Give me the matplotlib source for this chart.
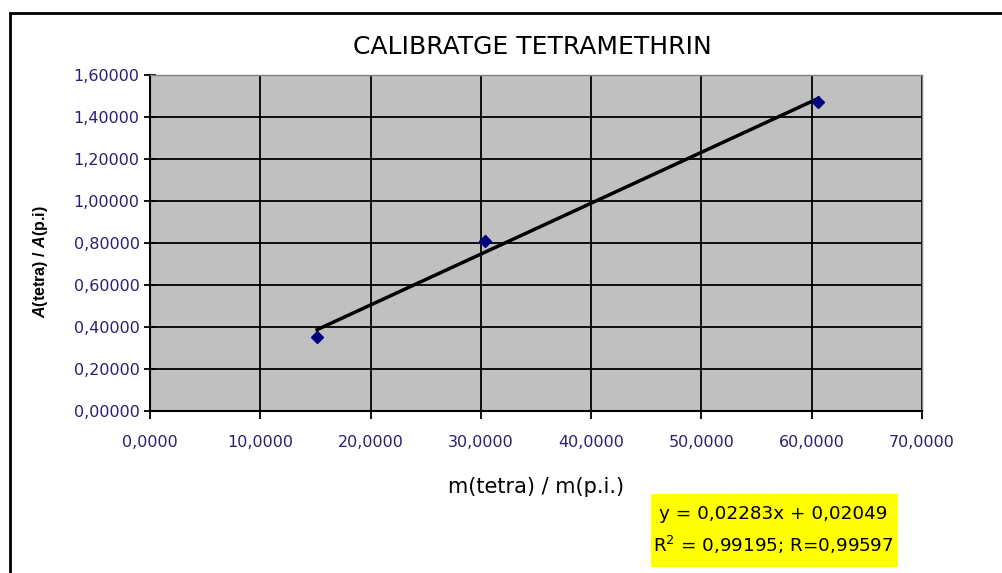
import numpy as np
import matplotlib
matplotlib.use('Agg')
import matplotlib.pyplot as plt
from matplotlib.patches import Rectangle

ratio_mass = [15.15, 30.4, 60.6]
ratio_area = [0.352, 0.81, 1.471]

x_ticks = [0, 10, 20, 30, 40, 50, 60, 70]
y_ticks = [0.0, 0.2, 0.4, 0.6, 0.8, 1.0, 1.2, 1.4, 1.6]

eq_line = 'y = 0,02283x + 0,02049'
r_line = 'R$^2$ = 0,99195; R=0,99597'

plt.rcParams['font.family'] = ['DejaVu Sans']
plt.rcParams['mathtext.fontset'] = 'custom'
plt.rcParams['mathtext.rm'] = 'DejaVu Sans'
plt.rcParams['mathtext.bfit'] = 'Liberation Sans:bold:italic'

tick_col = '#2a1f70'

fig = plt.figure(figsize=(10.02, 5.73), dpi=100)
W, H = 1002, 573

# outer chart border
fig.patches.append(Rectangle((10 / W, -0.1), 1.1, 1 - 13 / H + 0.1,
                             transform=fig.transFigure, fill=False,
                             edgecolor='black', linewidth=2))

ax = fig.add_axes([150 / W, 1 - 411 / H, (922 - 150) / W, (411 - 75) / H])
ax.set_facecolor('#c0c0c0')

ax.plot(ratio_mass, ratio_area, linestyle='none', marker='D', markersize=6,
        color='#000080', zorder=4)

# linear trendline over the measured range
k, b = np.polyfit(ratio_mass, ratio_area, 1)
xs = np.array([min(ratio_mass), max(ratio_mass)])
ax.plot(xs, k * xs + b, color='black', linewidth=2.5, zorder=3)

ax.set_xlim(0, 70)
ax.set_ylim(0, 1.6)
ax.set_xticks(x_ticks)
ax.set_yticks(y_ticks)
ax.set_xticklabels([f'{v:.4f}'.replace('.', ',') for v in x_ticks])
ax.set_yticklabels([f'{v:.5f}'.replace('.', ',') for v in y_ticks])
ax.grid(True, color='black', linewidth=1.3)
ax.set_axisbelow(True)

ax.tick_params(axis='both', labelsize=11.5, labelcolor=tick_col, color='black',
               width=1.3)
ax.tick_params(axis='y', direction='inout', length=9, pad=3)
ax.tick_params(axis='x', direction='out', length=6, pad=11)
for s in ['top', 'right']:
    ax.spines[s].set_color('#808080')
    ax.spines[s].set_linewidth(1)
for s in ['left', 'bottom']:
    ax.spines[s].set_color('black')
    ax.spines[s].set_linewidth(1.5)

fig.text(532 / W, 1 - 47 / H, 'CALIBRATGE TETRAMETHRIN', ha='center',
         va='center', fontsize=18)
fig.text(536 / W, 1 - 487 / H, 'm(tetra) / m(p.i.)', ha='center', va='center',
         fontsize=15)
fig.text(40 / W, 1 - 262 / H, r'$\mathbfit{A}$(tetra) / $\mathbfit{A}$(p.i)',
         ha='center', va='center', rotation=90, fontsize=11.5,
         fontweight='bold', family='Liberation Sans')

fig.patches.append(Rectangle((651 / W, 1 - 567 / H), (898 - 651) / W, 73 / H,
                             transform=fig.transFigure, facecolor='#ffff00',
                             edgecolor='none'))
fig.text(773 / W, 1 - 514 / H, eq_line, ha='center', va='center', fontsize=13.2)
fig.text(773 / W, 1 - 545 / H, r_line, ha='center', va='center', fontsize=13.2)

fig.savefig('out.png', dpi=100)
